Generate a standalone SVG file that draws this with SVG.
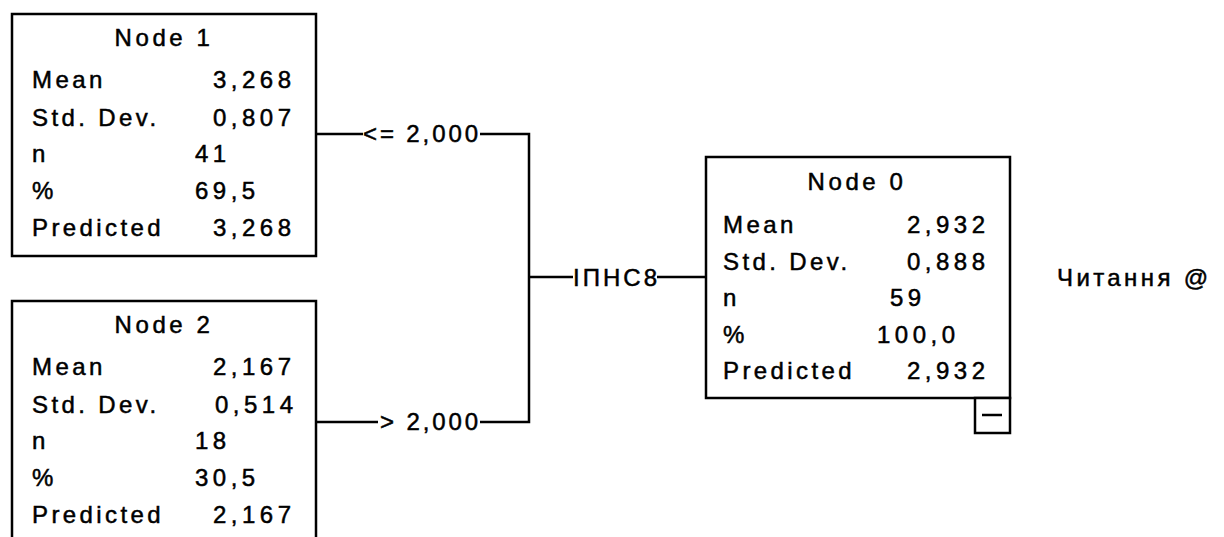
<svg xmlns="http://www.w3.org/2000/svg" width="1224" height="537" viewBox="0 0 1224 537">
<style>
  text { font-family: "Liberation Sans", Arial, sans-serif; font-size: 24px; fill: #000; stroke: #000; stroke-width: 0.5px; }
  .title { text-anchor: middle; letter-spacing: 3.6px; }
  .lab { letter-spacing: 3.4px; }
  .val { letter-spacing: 4.5px; }
  .box { fill: #fff; stroke: #000; stroke-width: 2.5; }
  .ln { stroke: #000; stroke-width: 2.5; fill: none; }
</style>
<rect width="1224" height="537" fill="#fff"/>

<g id="connectors">
  <path class="ln" d="M317 134 H363 M480 134 H529 V422 H480 M378 422 H317 M529 277 H573 M657 277 H705"/>
  <text x="363" y="142" textLength="115" lengthAdjust="spacing">&lt;= 2,000</text>
  <text x="380" y="430" textLength="98" lengthAdjust="spacing">&gt; 2,000</text>
  <text x="573" y="286" textLength="84" lengthAdjust="spacing">ІПНС8</text>
</g>

<g id="node1">
  <rect class="box" x="12" y="14" width="304" height="242"/>
  <text class="title" x="164" y="46">Node 1</text>
  <text class="lab" x="32" y="88">Mean</text>
  <text class="val" x="213" y="88">3,268</text>
  <text class="lab" x="32" y="126">Std. Dev.</text>
  <text class="val" x="213" y="126">0,807</text>
  <text class="lab" x="32" y="162">n</text>
  <text class="val" x="195" y="162">41</text>
  <text class="lab" x="32" y="199">%</text>
  <text class="val" x="195" y="199">69,5</text>
  <text class="lab" x="32" y="236">Predicted</text>
  <text class="val" x="213" y="236">3,268</text>
</g>

<g id="node2">
  <rect class="box" x="12" y="301" width="304" height="260"/>
  <text class="title" x="164" y="333">Node 2</text>
  <text class="lab" x="32" y="375">Mean</text>
  <text class="val" x="213" y="375">2,167</text>
  <text class="lab" x="32" y="413">Std. Dev.</text>
  <text class="val" x="215" y="413">0,514</text>
  <text class="lab" x="32" y="449">n</text>
  <text class="val" x="195" y="449">18</text>
  <text class="lab" x="32" y="486">%</text>
  <text class="val" x="195" y="486">30,5</text>
  <text class="lab" x="32" y="523">Predicted</text>
  <text class="val" x="213" y="523">2,167</text>
</g>

<g id="node0">
  <rect class="box" x="706" y="157" width="304" height="241"/>
  <text class="title" x="857" y="190">Node 0</text>
  <text class="lab" x="723" y="233">Mean</text>
  <text class="val" x="907" y="233">2,932</text>
  <text class="lab" x="723" y="270">Std. Dev.</text>
  <text class="val" x="907" y="270">0,888</text>
  <text class="lab" x="723" y="306">n</text>
  <text class="val" x="890" y="306">59</text>
  <text class="lab" x="723" y="343">%</text>
  <text class="val" x="877" y="343">100,0</text>
  <text class="lab" x="723" y="379">Predicted</text>
  <text class="val" x="907" y="379">2,932</text>
  <rect class="box" x="975" y="398" width="35" height="35"/>
  <path class="ln" d="M982 415 H1002"/>
</g>

<g id="target">
  <text class="lab" x="1057" y="286" letter-spacing="2.2">Читання @</text>
</g>
</svg>
